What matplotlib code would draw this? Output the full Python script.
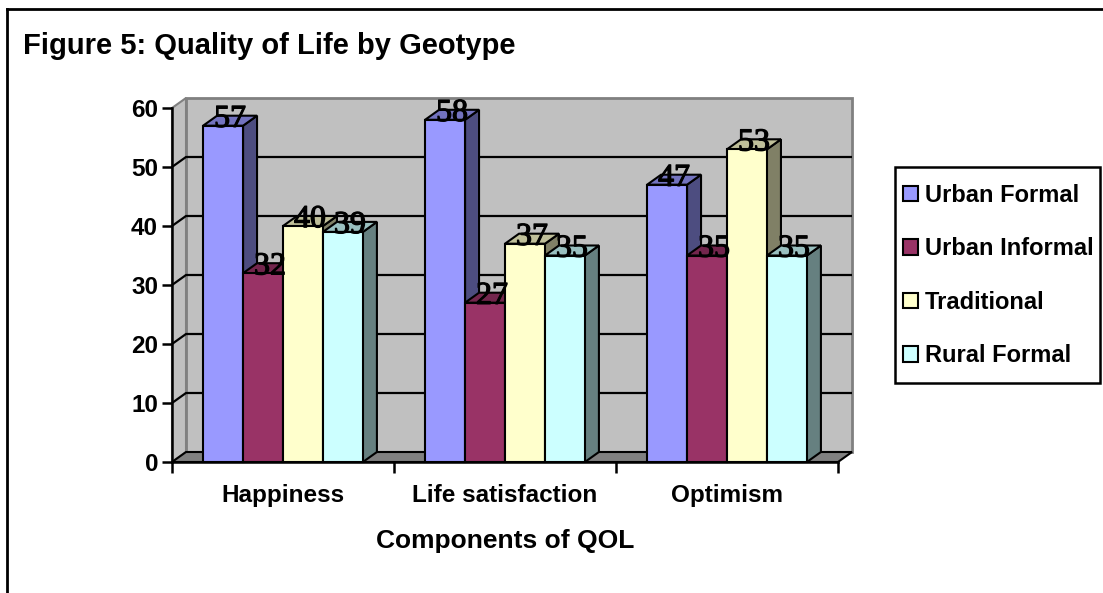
import matplotlib
matplotlib.use('Agg')
import matplotlib.pyplot as plt
import matplotlib.patheffects as pe
from matplotlib.patches import Polygon, Rectangle, Patch
from matplotlib.lines import Line2D

# ---------------- data ----------------
categories = ['Happiness', 'Life satisfaction', 'Optimism']
series_names = ['Urban Formal', 'Urban Informal', 'Traditional', 'Rural Formal']
urban_formal = [57, 58, 47]
urban_informal = [32, 27, 35]
traditional = [40, 37, 53]
rural_formal = [39, 35, 35]
y_ticks = [0, 10, 20, 30, 40, 50, 60]
title_text = 'Figure 5: Quality of Life by Geotype'
x_title = 'Components of QOL'

series_values = [urban_formal, urban_informal, traditional, rural_formal]
front_colors = ['#9999FF', '#993366', '#FFFFCC', '#CCFFFF']
side_colors = ['#4D4D80', '#4D1A33', '#808066', '#668080']
top_colors = ['#7373BF', '#73264D', '#BFBF99', '#99BFBF']

plt.rcParams['font.family'] = ['Liberation Sans', 'DejaVu Sans']

W, H = 1103, 593
fig = plt.figure(figsize=(W / 100, H / 100), dpi=100)
fig.patch.set_facecolor('white')

ax_l, ax_b, ax_w, ax_h = 172, H - 462, 666, 354
ax = fig.add_axes([ax_l / W, ax_b / H, ax_w / W, ax_h / H])
ncat = len(categories)
ax.set_xlim(-0.5, ncat - 0.5)
ax.set_ylim(y_ticks[0], y_ticks[-1])
ax.set_facecolor('none')

# depth of the 3-D effect (pixels -> data units)
dpx, dpy = 14, 10
ddx = dpx / ax_w * ncat
ddy = dpy / ax_h * (y_ticks[-1] - y_ticks[0])
x0, x1 = -0.5, ncat - 0.5
ytop = y_ticks[-1]

wall_c = '#C0C0C0'
# back wall
ax.add_patch(Rectangle((x0 + ddx, ddy), x1 - x0, ytop, fc=wall_c, ec='#808080',
                       lw=2, clip_on=False, zorder=0))
# left wall
ax.add_patch(Polygon([(x0, 0), (x0, ytop), (x0 + ddx, ytop + ddy), (x0 + ddx, ddy)],
                     closed=True, fc=wall_c, ec='#808080', lw=1.5, clip_on=False, zorder=0.5))
# floor
ax.add_patch(Polygon([(x0, 0), (x1, 0), (x1 + ddx, ddy), (x0 + ddx, ddy)],
                     closed=True, fc='#808080', ec='black', lw=1.5, clip_on=False, zorder=0.6))
# gridlines
for v in y_ticks[1:-1]:
    ax.plot([x0, x0 + ddx, x1 + ddx], [v, v + ddy, v + ddy], color='black', lw=1.6,
            clip_on=False, zorder=1, solid_capstyle='butt')

# bars
bar_w = 0.18
group_w = bar_w * len(series_values)
for i, vals in enumerate(series_values):
    for j, v in enumerate(vals):
        xl = j - group_w / 2 + i * bar_w
        xr = xl + bar_w
        z = 3 + i
        ax.add_patch(Polygon([(xr, 0), (xr + ddx, ddy), (xr + ddx, v + ddy), (xr, v)],
                             closed=True, fc=side_colors[i], ec='black', lw=1.5,
                             clip_on=False, zorder=z, joinstyle='miter'))
        ax.add_patch(Polygon([(xl, v), (xl + ddx, v + ddy), (xr + ddx, v + ddy), (xr, v)],
                             closed=True, fc=top_colors[i], ec='black', lw=1.5,
                             clip_on=False, zorder=z, joinstyle='miter'))
        ax.add_patch(Rectangle((xl, 0), bar_w, v, fc=front_colors[i], ec='black', lw=1.5,
                               clip_on=False, zorder=z + 0.1, joinstyle='miter'))
        ax.text(xl + bar_w / 2 + ddx / 2, v - 0.2, str(v), ha='center', va='baseline',
                fontfamily='Liberation Serif', fontsize=23, color='black',
                zorder=20, clip_on=False,
                path_effects=[pe.withStroke(linewidth=0.9, foreground='black')])

# axes & ticks
for s in ['top', 'right']:
    ax.spines[s].set_visible(False)
for s in ['left', 'bottom']:
    ax.spines[s].set_linewidth(1.8)
    ax.spines[s].set_zorder(2.5)
ax.set_yticks(y_ticks)
ax.set_yticklabels([str(t) for t in y_ticks], fontsize=17.5, fontweight='bold')
ax.tick_params(axis='y', direction='out', length=7, width=1.8, pad=3)
ax.set_xticks(range(ncat))
ax.set_xticklabels(categories, fontsize=17.5, fontweight='bold')
ax.set_xticks([x0 + k for k in range(ncat + 1)], minor=True)
ax.tick_params(axis='x', which='major', length=0, pad=16)
ax.tick_params(axis='x', which='minor', direction='out', length=8, width=1.8)
ax.set_xlabel(x_title, fontsize=19, fontweight='bold', labelpad=16)

# legend (custom frame)
fig.add_artist(Rectangle((895 / W, 1 - 383 / H), 205 / W, 216 / H,
                         transform=fig.transFigure, fc='white', ec='black', lw=1.8,
                         zorder=1))
handles = [Patch(fc=c, ec='black', lw=1.5) for c in front_colors]
leg = fig.legend(handles, series_names, loc='upper left',
                 bbox_to_anchor=(903 / W, 1 - 184 / H),
                 prop={'weight': 'bold', 'size': 17}, frameon=False,
                 handlelength=0.62, handleheight=0.62,
                 handletextpad=0.3, labelspacing=1.29, borderpad=0,
                 borderaxespad=0)
leg.set_zorder(2)

# title
fig.text(23 / W, 1 - 54 / H, title_text, ha='left', va='baseline',
         fontsize=21, fontweight='bold')

# outer frame (extends beyond right and bottom of image)
fig.add_artist(Line2D([7 / W, 7 / W], [0, 1 - 9 / H], transform=fig.transFigure,
                      color='black', lw=2))
fig.add_artist(Line2D([7 / W, 1], [1 - 9 / H, 1 - 9 / H], transform=fig.transFigure,
                      color='black', lw=2))

fig.savefig('out.png', dpi=100)
